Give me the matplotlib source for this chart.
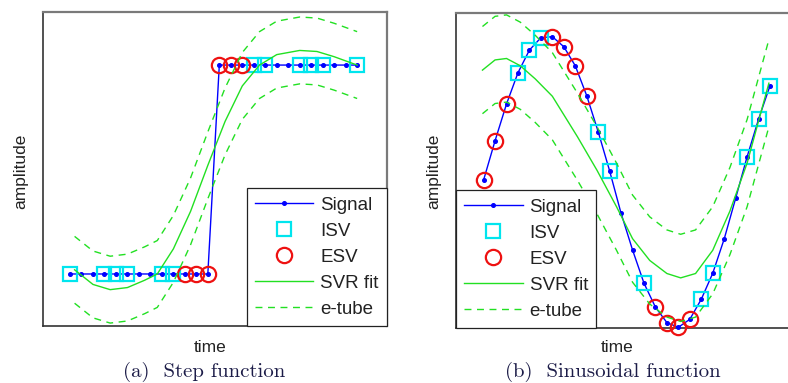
import matplotlib
matplotlib.use("Agg")
import matplotlib.pyplot as plt
from matplotlib.lines import Line2D

# ---------------- data ----------------
# (a) step function
step_t = list(range(26))
step_signal = [0, 0, 0, 0, 0, 0, 0, 0, 0, 0, 0, 0, 0,
               1, 1, 1, 1, 1, 1, 1, 1, 1, 1, 1, 1, 1]
step_isv = [0, 3, 4, 5, 8, 9, 16, 17, 20, 21, 22, 25]
step_esv = [10, 11, 12, 13, 14, 15]
step_fit_t = [0.4, 2, 3.5, 5, 6.5, 7.6, 9, 10.5, 12, 13.5, 15, 16.5, 18, 20, 21.5, 23, 25]
step_fit_v = [0.02, -0.05, -0.075, -0.065, -0.03, 0.0, 0.12, 0.30, 0.52, 0.73, 0.90, 1.00,
              1.05, 1.07, 1.065, 1.04, 1.0]
step_eps = 0.16

# (b) sinusoidal function
sin_t = list(range(26))
sin_signal = [0.014, 0.284, 0.537, 0.752, 0.908, 0.993, 1.0, 0.931, 0.800, 0.594, 0.346,
              0.076, -0.216, -0.468, -0.697, -0.862, -0.968, -1.0, -0.945, -0.807, -0.628,
              -0.392, -0.112, 0.174, 0.433, 0.663]
sin_isv = [3, 4, 5, 10, 11, 14, 19, 20, 23, 24, 25]
sin_esv = [0, 1, 2, 6, 7, 8, 9, 15, 16, 17, 18]
sin_fit_t = [-0.1, 1, 2, 3.2, 4.5, 6, 8.2, 9.9, 11.6, 13, 14.5, 16, 17.2, 18.5, 20, 21.5, 23, 24, 24.9]
sin_fit_v = [0.77, 0.84, 0.85, 0.80, 0.71, 0.59, 0.31, 0.08, -0.17, -0.39, -0.54, -0.63,
             -0.66, -0.63, -0.47, -0.20, 0.13, 0.42, 0.68]
sin_eps = 0.30

legend_labels = ["Signal", "ISV", "ESV", "SVR fit", "e-tube"]
captions = ["(a)  Step function", "(b)  Sinusoidal function"]

# ---------------- style ----------------
W, H = 788, 383
SIG = "#0000ff"
GREEN = "#22e022"
CYAN = "#00e5ee"
RED = "#ee1111"
SANS = ["Liberation Sans", "DejaVu Sans"]

fig = plt.figure(figsize=(W / 100, H / 100), dpi=100)


def frac_box(x0, y0, x1, y1):
    return [x0 / W, 1 - y1 / H, (x1 - x0) / W, (y1 - y0) / H]


def draw(ax, t, sig, isv, esv, ft, fv, eps, clip):
    ax.plot(t, sig, color=SIG, lw=1.0, marker="o", ms=2.6, mec=SIG, mfc=SIG,
            clip_on=clip, zorder=3)
    ax.plot([t[i] for i in isv], [sig[i] for i in isv], ls="none", marker="s", ms=10,
            mfc="none", mec=CYAN, mew=1.6, clip_on=False, zorder=4)
    ax.plot([t[i] for i in esv], [sig[i] for i in esv], ls="none", marker="o", ms=11,
            mfc="none", mec=RED, mew=1.6, clip_on=False, zorder=4)
    ax.plot(ft, fv, color=GREEN, lw=1.0, zorder=5)
    ax.plot(ft, [v + eps for v in fv], color=GREEN, lw=1.0, dashes=(5, 4), zorder=5)
    ax.plot(ft, [v - eps for v in fv], color=GREEN, lw=1.0, dashes=(5, 4), zorder=5)
    ax.set_xticks([])
    ax.set_yticks([])
    for side in ["left", "bottom"]:
        ax.spines[side].set_color("#333333")
        ax.spines[side].set_linewidth(1.2)
    for side in ["top", "right"]:
        ax.spines[side].set_color("#7a7a7a")
        ax.spines[side].set_linewidth(1.6)


def add_legend(ax, loc):
    handles = [
        Line2D([], [], color=SIG, lw=1.0, marker="o", ms=2.6),
        Line2D([], [], ls="none", marker="s", ms=10, mfc="none", mec=CYAN, mew=1.6),
        Line2D([], [], ls="none", marker="o", ms=11, mfc="none", mec=RED, mew=1.6),
        Line2D([], [], color=GREEN, lw=1.0),
        Line2D([], [], color=GREEN, lw=1.0, dashes=(5, 4)),
    ]
    leg = ax.legend(handles, legend_labels, loc=loc, borderaxespad=0, fancybox=False,
                    framealpha=1, edgecolor="#222222", handlelength=3.1,
                    handletextpad=0.37, borderpad=0.45, labelspacing=0.47,
                    prop={"family": SANS, "size": 13.5})
    leg.get_frame().set_linewidth(0.9)
    leg.set_zorder(10)
    for txt in leg.get_texts():
        txt.set_color("#222222")


ax1 = fig.add_axes(frac_box(43, 12, 387, 326))
draw(ax1, step_t, step_signal, step_isv, step_esv, step_fit_t, step_fit_v, step_eps, True)
ax1.set_xlim(-2.35, 27.6)
ax1.set_ylim(-0.249, 1.254)
add_legend(ax1, "lower right")

ax2 = fig.add_axes(frac_box(456, 13, 791, 328))
draw(ax2, sin_t, sin_signal, sin_isv, sin_esv, sin_fit_t, sin_fit_v, sin_eps, False)
ax2.set_xlim(-2.41, 26.83)
ax2.set_ylim(-1.005, 1.163)
add_legend(ax2, "lower left")

# axis labels and captions
for x in (210, 617):
    fig.text(x / W, 1 - 347 / H, "time", ha="center", va="center", family=SANS,
             fontsize=12.5, color="#222222")
for x in (21, 434):
    fig.text(x / W, 1 - 171 / H, "amplitude", ha="center", va="center", rotation=90,
             family=SANS, fontsize=12.5, color="#222222")
for x, cap in zip((204, 613), captions):
    fig.text(x / W, 1 - 372 / H, cap, ha="center", va="center", family=["cmr10", "DejaVu Serif"],
             fontsize=15, color="#1c1c48")

fig.savefig("out.png", dpi=100)
